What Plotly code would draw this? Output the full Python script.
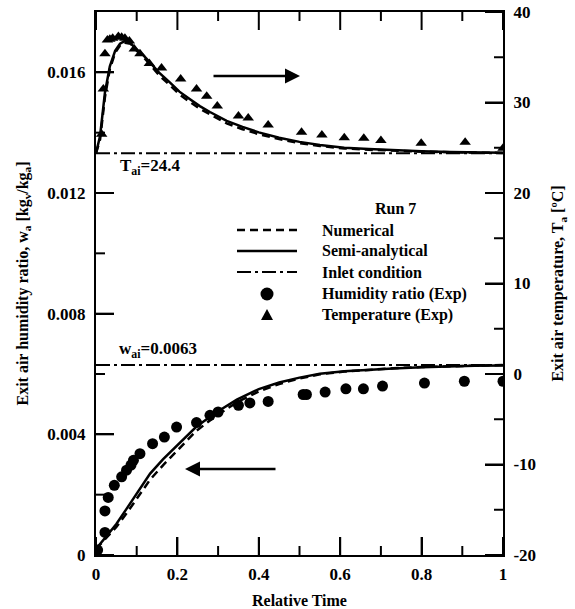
import plotly.graph_objects as go

# ---------------- data ----------------
x_ticks = [0, 0.2, 0.4, 0.6, 0.8, 1]
x_tick_labels = ["0", "0.2", "0.4", "0.6", "0.8", "1"]
x_minor_ticks = [0.1, 0.3, 0.5, 0.7, 0.9]
w_ticks = [0, 0.004, 0.008, 0.012, 0.016]
w_tick_labels = ["0", "0.004", "0.008", "0.012", "0.016"]
w_minor_ticks = [0.002, 0.006, 0.010, 0.014]
T_ticks = [-20, -10, 0, 10, 20, 30, 40]
T_tick_labels = ["-20", "-10", "0", "10", "20", "30", "40"]
T_minor_ticks = [-15, -5, 5, 15, 25, 35]

# temperature curves (right axis)
t_curve_x = [0, 0.01, 0.022, 0.034, 0.047, 0.059, 0.071, 0.085, 0.096, 0.115, 0.133,
             0.155, 0.182, 0.205, 0.231, 0.255, 0.280, 0.321, 0.36, 0.40, 0.45, 0.50,
             0.55, 0.61, 0.67, 0.73, 0.80, 0.87, 0.93, 1.0]
T_semi = [24.4, 26.3, 31.1, 34.0, 35.7, 36.5, 36.8, 36.6, 36.0, 35.3, 34.4,
          33.3, 32.2, 31.2, 30.35, 29.6, 28.95, 27.96, 27.3, 26.7, 26.1, 25.65,
          25.3, 25.0, 24.85, 24.72, 24.6, 24.53, 24.5, 24.45]
T_num = [24.4, 25.9, 30.6, 33.7, 35.5, 36.3, 36.6, 36.5, 35.9, 35.1, 34.2,
         33.0, 31.9, 30.9, 30.05, 29.3, 28.7, 27.7, 27.05, 26.5, 25.95, 25.5,
         25.2, 24.92, 24.78, 24.66, 24.57, 24.5, 24.47, 24.43]

# humidity curves (left axis)
w_curve_x = [0, 0.025, 0.05, 0.075, 0.1, 0.133, 0.165, 0.198, 0.247, 0.297, 0.346,
             0.40, 0.45, 0.50, 0.55, 0.61, 0.67, 0.73, 0.80, 0.87, 0.93, 1.0]
w_semi = [0.0002, 0.0006, 0.00103, 0.00153, 0.00203, 0.0027, 0.00318, 0.00362,
          0.00426, 0.00474, 0.00515, 0.0055, 0.00572, 0.00588, 0.00601, 0.00609,
          0.00614, 0.00618, 0.00622, 0.00625, 0.00627, 0.00628]
w_num = [0.0002, 0.00055, 0.00093, 0.00138, 0.00185, 0.0025, 0.00298, 0.00343,
         0.00412, 0.00463, 0.00506, 0.00542, 0.00567, 0.00585, 0.00599, 0.00608,
         0.00614, 0.00619, 0.00623, 0.00626, 0.00628, 0.0063]

# inlet conditions
inlet_x = [0, 1]
inlet_T = [24.4, 24.4]
inlet_w = [0.0063, 0.0063]

# experimental humidity ratio
w_exp_x = [0.004, 0.022, 0.022, 0.030, 0.045, 0.063, 0.075, 0.086, 0.092, 0.108,
           0.139, 0.168, 0.198, 0.247, 0.280, 0.300, 0.350, 0.378, 0.423, 0.509,
           0.517, 0.563, 0.614, 0.657, 0.704, 0.807, 0.905, 1.0]
w_exp = [0.000165, 0.00075, 0.00146, 0.00191, 0.00231, 0.00259, 0.00281, 0.00298,
         0.00314, 0.00336, 0.00369, 0.00391, 0.00424, 0.00439, 0.00463, 0.00474,
         0.00496, 0.00504, 0.00509, 0.00532, 0.00532, 0.0054, 0.00551, 0.00551,
         0.0056, 0.0057, 0.00576, 0.00576]

# experimental temperature
T_exp_x = [0.014, 0.018, 0.022, 0.028, 0.034, 0.041, 0.055, 0.063, 0.071, 0.082,
           0.094, 0.108, 0.131, 0.161, 0.208, 0.247, 0.272, 0.298, 0.350, 0.374,
           0.423, 0.505, 0.555, 0.610, 0.658, 0.700, 0.799, 0.907, 1.0]
T_exp = [26.5, 31.5, 35.4, 36.9, 37.0, 37.1, 37.3, 37.2, 37.1, 36.8,
         35.9, 35.4, 34.3, 33.8, 32.6, 31.5, 30.7, 29.6, 28.5, 28.3,
         27.5, 26.7, 26.4, 26.1, 26.05, 25.8, 25.5, 25.6, 24.95]

legend_title = "Run 7"
legend_labels = ["Numerical", "Semi-analytical", "Inlet condition",
                 "Humidity ratio (Exp)", "Temperature (Exp)"]

# ---------------- styling ----------------
FONT = "Liberation Serif"
BLACK = "black"
LW = 2.5
DASH = "8px,5px"
DASHDOT = "14px,4px,3px,4px"

W, H = 575, 609
L, R, T, B = 96, 72, 12, 54
PW, PH = W - L - R, H - T - B
MAJ, MIN = 18, 9
X_RANGE = [0, 1]
W_RANGE = [0, 0.018]
T_RANGE = [-20, 40]


def px(x):
    return (x - L) / PW


def py(y):
    return (H - B - y) / PH


def bold(labels):
    return ["<b>%s</b>" % s for s in labels]


fig = go.Figure()

# humidity (left axis)
fig.add_trace(go.Scatter(x=w_curve_x, y=w_num, mode="lines", yaxis="y",
                         line=dict(color=BLACK, width=LW, dash=DASH), showlegend=False))
fig.add_trace(go.Scatter(x=w_curve_x, y=w_semi, mode="lines", yaxis="y",
                         line=dict(color=BLACK, width=LW), showlegend=False))
fig.add_trace(go.Scatter(x=inlet_x, y=inlet_w, mode="lines", yaxis="y",
                         line=dict(color=BLACK, width=2, dash=DASHDOT), showlegend=False))
fig.add_trace(go.Scatter(x=w_exp_x, y=w_exp, mode="markers", yaxis="y",
                         marker=dict(symbol="circle", size=11, color=BLACK), showlegend=False))

# temperature (right axis)
fig.add_trace(go.Scatter(x=t_curve_x, y=T_num, mode="lines", yaxis="y2",
                         line=dict(color=BLACK, width=LW, dash=DASH), showlegend=False))
fig.add_trace(go.Scatter(x=t_curve_x, y=T_semi, mode="lines", yaxis="y2",
                         line=dict(color=BLACK, width=LW), showlegend=False))
fig.add_trace(go.Scatter(x=inlet_x, y=inlet_T, mode="lines", yaxis="y2",
                         line=dict(color=BLACK, width=2, dash=DASHDOT), showlegend=False))
fig.add_trace(go.Scatter(x=T_exp_x, y=T_exp, mode="markers", yaxis="y2",
                         marker=dict(symbol="triangle-up", size=10, color=BLACK), showlegend=False))


# ---- tick marks as line segments on the axes' own scales ----
def seg_vertical(vals, length_px, at_top):
    span = W_RANGE[1] - W_RANGE[0]
    d = length_px / PH * span
    xs, ys = [], []
    for v in vals:
        y0 = W_RANGE[1] if at_top else W_RANGE[0]
        y1 = y0 - d if at_top else y0 + d
        xs += [v, v, None]
        ys += [y0, y1, None]
    return xs, ys


def seg_horizontal(vals, length_px, at_right):
    span = X_RANGE[1] - X_RANGE[0]
    d = length_px / PW * span
    xs, ys = [], []
    for v in vals:
        x0 = X_RANGE[1] if at_right else X_RANGE[0]
        x1 = x0 - d if at_right else x0 + d
        xs += [x0, x1, None]
        ys += [v, v, None]
    return xs, ys


tick_style = dict(mode="lines", line=dict(color=BLACK, width=2), showlegend=False,
                  hoverinfo="skip")
for vals, ln in ((x_ticks, MAJ), (x_minor_ticks, MIN)):
    for top in (False, True):
        xs, ys = seg_vertical(vals, ln, top)
        fig.add_trace(go.Scatter(x=xs, y=ys, yaxis="y", **tick_style))
for vals, ln in ((w_ticks, MAJ), (w_minor_ticks, MIN)):
    xs, ys = seg_horizontal(vals, ln, False)
    fig.add_trace(go.Scatter(x=xs, y=ys, yaxis="y", **tick_style))
for vals, ln in ((T_ticks, MAJ), (T_minor_ticks, MIN)):
    xs, ys = seg_horizontal(vals, ln, True)
    fig.add_trace(go.Scatter(x=xs, y=ys, yaxis="y2", **tick_style))

tickfont = dict(family=FONT, size=17, color=BLACK)
titlefont = dict(family=FONT, size=16, color=BLACK)
common = dict(ticks="inside", ticklen=MAJ, tickwidth=2, tickcolor=BLACK,
              showgrid=False, zeroline=False, tickfont=tickfont,
              showline=True, linewidth=2, linecolor=BLACK)

fig.update_layout(
    width=W, height=H,
    margin=dict(l=L, r=R, t=T, b=B, autoexpand=False),
    plot_bgcolor="white", paper_bgcolor="white",
    showlegend=False,
    xaxis=dict(range=X_RANGE, tickmode="array", tickvals=x_ticks, ticktext=bold(x_tick_labels),
               mirror=True, ticklabelstandoff=3,
               title=dict(text="<b>Relative Time</b>", font=titlefont, standoff=12), **common),
    yaxis=dict(range=W_RANGE, tickmode="array", tickvals=w_ticks, ticktext=bold(w_tick_labels),
               ticklabelstandoff=5,
               title=dict(text="<b>Exit air humidity ratio, w<sub>a</sub> [kg<sub>v</sub>/kg<sub>a</sub>]</b>",
                          font=titlefont, standoff=15), **common),
    yaxis2=dict(range=T_RANGE, tickmode="array", tickvals=T_ticks, ticktext=bold(T_tick_labels),
                overlaying="y", side="right", anchor="x", ticklabelstandoff=5,
                title=dict(text="<b>Exit air temperature, T<sub>a</sub> [ºC]</b>",
                           font=titlefont, standoff=17), **common),
)

# legend samples
shapes = [
    dict(type="line", xref="paper", yref="paper", x0=px(237), x1=px(297), y0=py(230), y1=py(230),
         line=dict(color=BLACK, width=LW, dash=DASH)),
    dict(type="line", xref="paper", yref="paper", x0=px(237), x1=px(297), y0=py(251), y1=py(251),
         line=dict(color=BLACK, width=LW)),
    dict(type="line", xref="paper", yref="paper", x0=px(237), x1=px(297), y0=py(272), y1=py(272),
         line=dict(color=BLACK, width=2, dash=DASHDOT)),
    dict(type="circle", xref="paper", yref="paper", x0=px(260.5), x1=px(273.5),
         y0=py(300.5), y1=py(287.5), fillcolor=BLACK, line=dict(color=BLACK, width=0)),
    dict(type="path", xref="paper", yref="paper",
         path="M %f %f L %f %f L %f %f Z" % (px(261), py(320), px(273), py(320), px(267), py(309)),
         fillcolor=BLACK, line=dict(color=BLACK, width=0)),
]
fig.update_layout(shapes=shapes)

annfont = dict(family=FONT, size=17, color=BLACK)
legfont = dict(family=FONT, size=16, color=BLACK)

annotations = [
    dict(text="<b>T<sub>ai</sub>=24.4</b>", x=px(118), y=py(167), xref="paper", yref="paper",
         xanchor="left", yanchor="middle", showarrow=False, font=annfont),
    dict(text="<b>w<sub>ai</sub>=0.0063</b>", x=px(117), y=py(350), xref="paper", yref="paper",
         xanchor="left", yanchor="middle", showarrow=False, font=annfont),
    dict(x=px(300), y=py(76), ax=-88, ay=0, xref="paper", yref="paper",
         axref="pixel", ayref="pixel", text="", showarrow=True, arrowhead=2,
         arrowsize=1.2, arrowwidth=2.5, arrowcolor=BLACK),
    dict(x=px(185), y=py(469), ax=92, ay=0, xref="paper", yref="paper",
         axref="pixel", ayref="pixel", text="", showarrow=True, arrowhead=2,
         arrowsize=1.2, arrowwidth=2.5, arrowcolor=BLACK),
    dict(text="<b>%s</b>" % legend_title, x=px(373), y=py(209), xref="paper", yref="paper",
         xanchor="left", yanchor="middle", showarrow=False, font=legfont),
]
row_y = [230, 251, 272, 294, 315]
for lab, yy in zip(legend_labels, row_y):
    annotations.append(dict(text="<b>%s</b>" % lab, x=px(320), y=py(yy), xref="paper", yref="paper",
                            xanchor="left", yanchor="middle", showarrow=False, font=legfont))
fig.update_layout(annotations=annotations)

fig.write_html("out.html")
